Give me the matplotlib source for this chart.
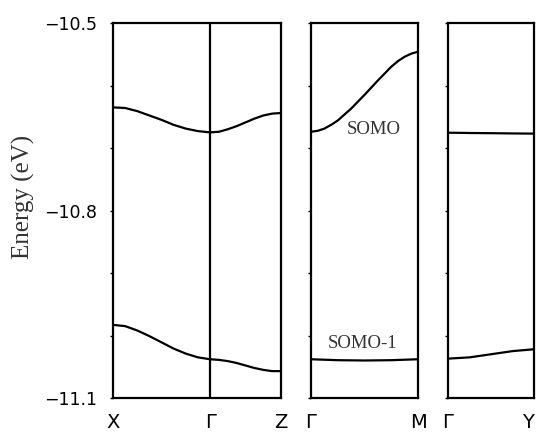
from matplotlib import pyplot as plt
import numpy as np

# k-path positions (path length units) and energies (eV)
t9 = [0, 0.125, 0.25, 0.375, 0.5, 0.625, 0.75, 0.875, 1.0]
t5 = [0, 0.25, 0.5, 0.75, 1.0]

# panel 1: X -> Gamma -> Z
seg_xg = 1.0
seg_gz = 0.73
somo_xg = [-10.635, -10.636, -10.641, -10.648, -10.655, -10.663, -10.669, -10.673, -10.675]
somo_gz = [-10.675, -10.674, -10.670, -10.665, -10.659, -10.653, -10.648, -10.645, -10.644]
somo1_xg = [-10.983, -10.985, -10.992, -11.001, -11.011, -11.021, -11.029, -11.035, -11.038]
somo1_gz = [-11.038, -11.039, -11.041, -11.044, -11.048, -11.052, -11.055, -11.057, -11.057]

# panel 2: Gamma -> M
seg_gm = 1.10
t_gm = [0, 0.0625, 0.125, 0.1875, 0.25, 0.375, 0.5, 0.625, 0.75, 0.8125, 0.875, 0.9375, 1.0]
somo_gm = [-10.674, -10.6725, -10.669, -10.663, -10.656, -10.637, -10.615, -10.592, -10.570,
           -10.561, -10.554, -10.549, -10.546]
somo1_gm = [-11.038, -11.0395, -11.040, -11.0395, -11.038]

# panel 3: Gamma -> Y
seg_gy = 0.89
somo_gy = [-10.6755, -10.676, -10.6763, -10.6767, -10.677]
somo1_gy = [-11.037, -11.035, -11.030, -11.025, -11.022]

yticks_major = [-10.5, -10.8, -11.1]
ytick_labels = ['\u221210.5', '\u221210.8', '\u221211.1']
yticks_minor = [-10.6, -10.7, -10.9, -11.0]

fig = plt.figure(figsize=(5.38, 4.34), dpi=100)
bottom = 1 - 398 / 434
height = (398 - 23) / 434
ax1 = fig.add_axes([113 / 538, bottom, 168 / 538, height])
ax2 = fig.add_axes([311 / 538, bottom, 107 / 538, height])
ax3 = fig.add_axes([448 / 538, bottom, 86 / 538, height])

lw = 1.6
t9 = np.array(t9)
t5 = np.array(t5)
t_gm = np.array(t_gm)

ax1.plot(t9 * seg_xg, somo_xg, color='black', lw=lw)
ax1.plot(seg_xg + t9 * seg_gz, somo_gz, color='black', lw=lw)
ax1.plot(t9 * seg_xg, somo1_xg, color='black', lw=lw)
ax1.plot(seg_xg + t9 * seg_gz, somo1_gz, color='black', lw=lw)
ax1.axvline(seg_xg, color='black', lw=lw)
ax1.set_xlim(0, seg_xg + seg_gz)
ax1.set_xticks([0, seg_xg, seg_xg + seg_gz])
ax1.set_xticklabels(['X', '\u0393', 'Z'])

ax2.plot(t_gm * seg_gm, somo_gm, color='black', lw=lw)
ax2.plot(t5 * seg_gm, somo1_gm, color='black', lw=lw)
ax2.set_xlim(0, seg_gm)
ax2.set_xticks([0, seg_gm])
ax2.set_xticklabels(['\u0393', 'M'])

ax3.plot(t5 * seg_gy, somo_gy, color='black', lw=lw)
ax3.plot(t5 * seg_gy, somo1_gy, color='black', lw=lw)
ax3.set_xlim(0, seg_gy)
ax3.set_xticks([0, seg_gy])
ax3.set_xticklabels(['\u0393', 'Y'])

for ax in (ax1, ax2, ax3):
    ax.set_ylim(-11.1, -10.5)
    ax.set_yticks(yticks_major)
    ax.set_yticks(yticks_minor, minor=True)
    for s in ax.spines.values():
        s.set_linewidth(lw)
    ax.tick_params(axis='x', length=0, pad=11, labelsize=14)
    ax.tick_params(axis='y', which='both', length=2.5, width=1, direction='out')
    ax.tick_params(axis='y', labelsize=12.5, pad=9)
    if ax is ax1:
        ax.set_yticklabels(ytick_labels)
    else:
        ax.set_yticklabels([])

# keep the last label inside the figure
ax3.get_xticklabels()[-1].set_ha('right')

ax1.set_ylabel('Energy (eV)', family='Liberation Serif', fontsize=18, color='#333333')
ax1.yaxis.set_label_coords(-0.464, 0.536)

ax2.text(0.648, -10.67, 'SOMO', family='Liberation Serif', fontsize=13.5, color='#333333',
         ha='center', va='center')
ax2.text(0.535, -11.0136, 'SOMO-1', family='Liberation Serif', fontsize=13.5, color='#333333',
         ha='center', va='center')

plt.savefig('out.png', dpi=100)
